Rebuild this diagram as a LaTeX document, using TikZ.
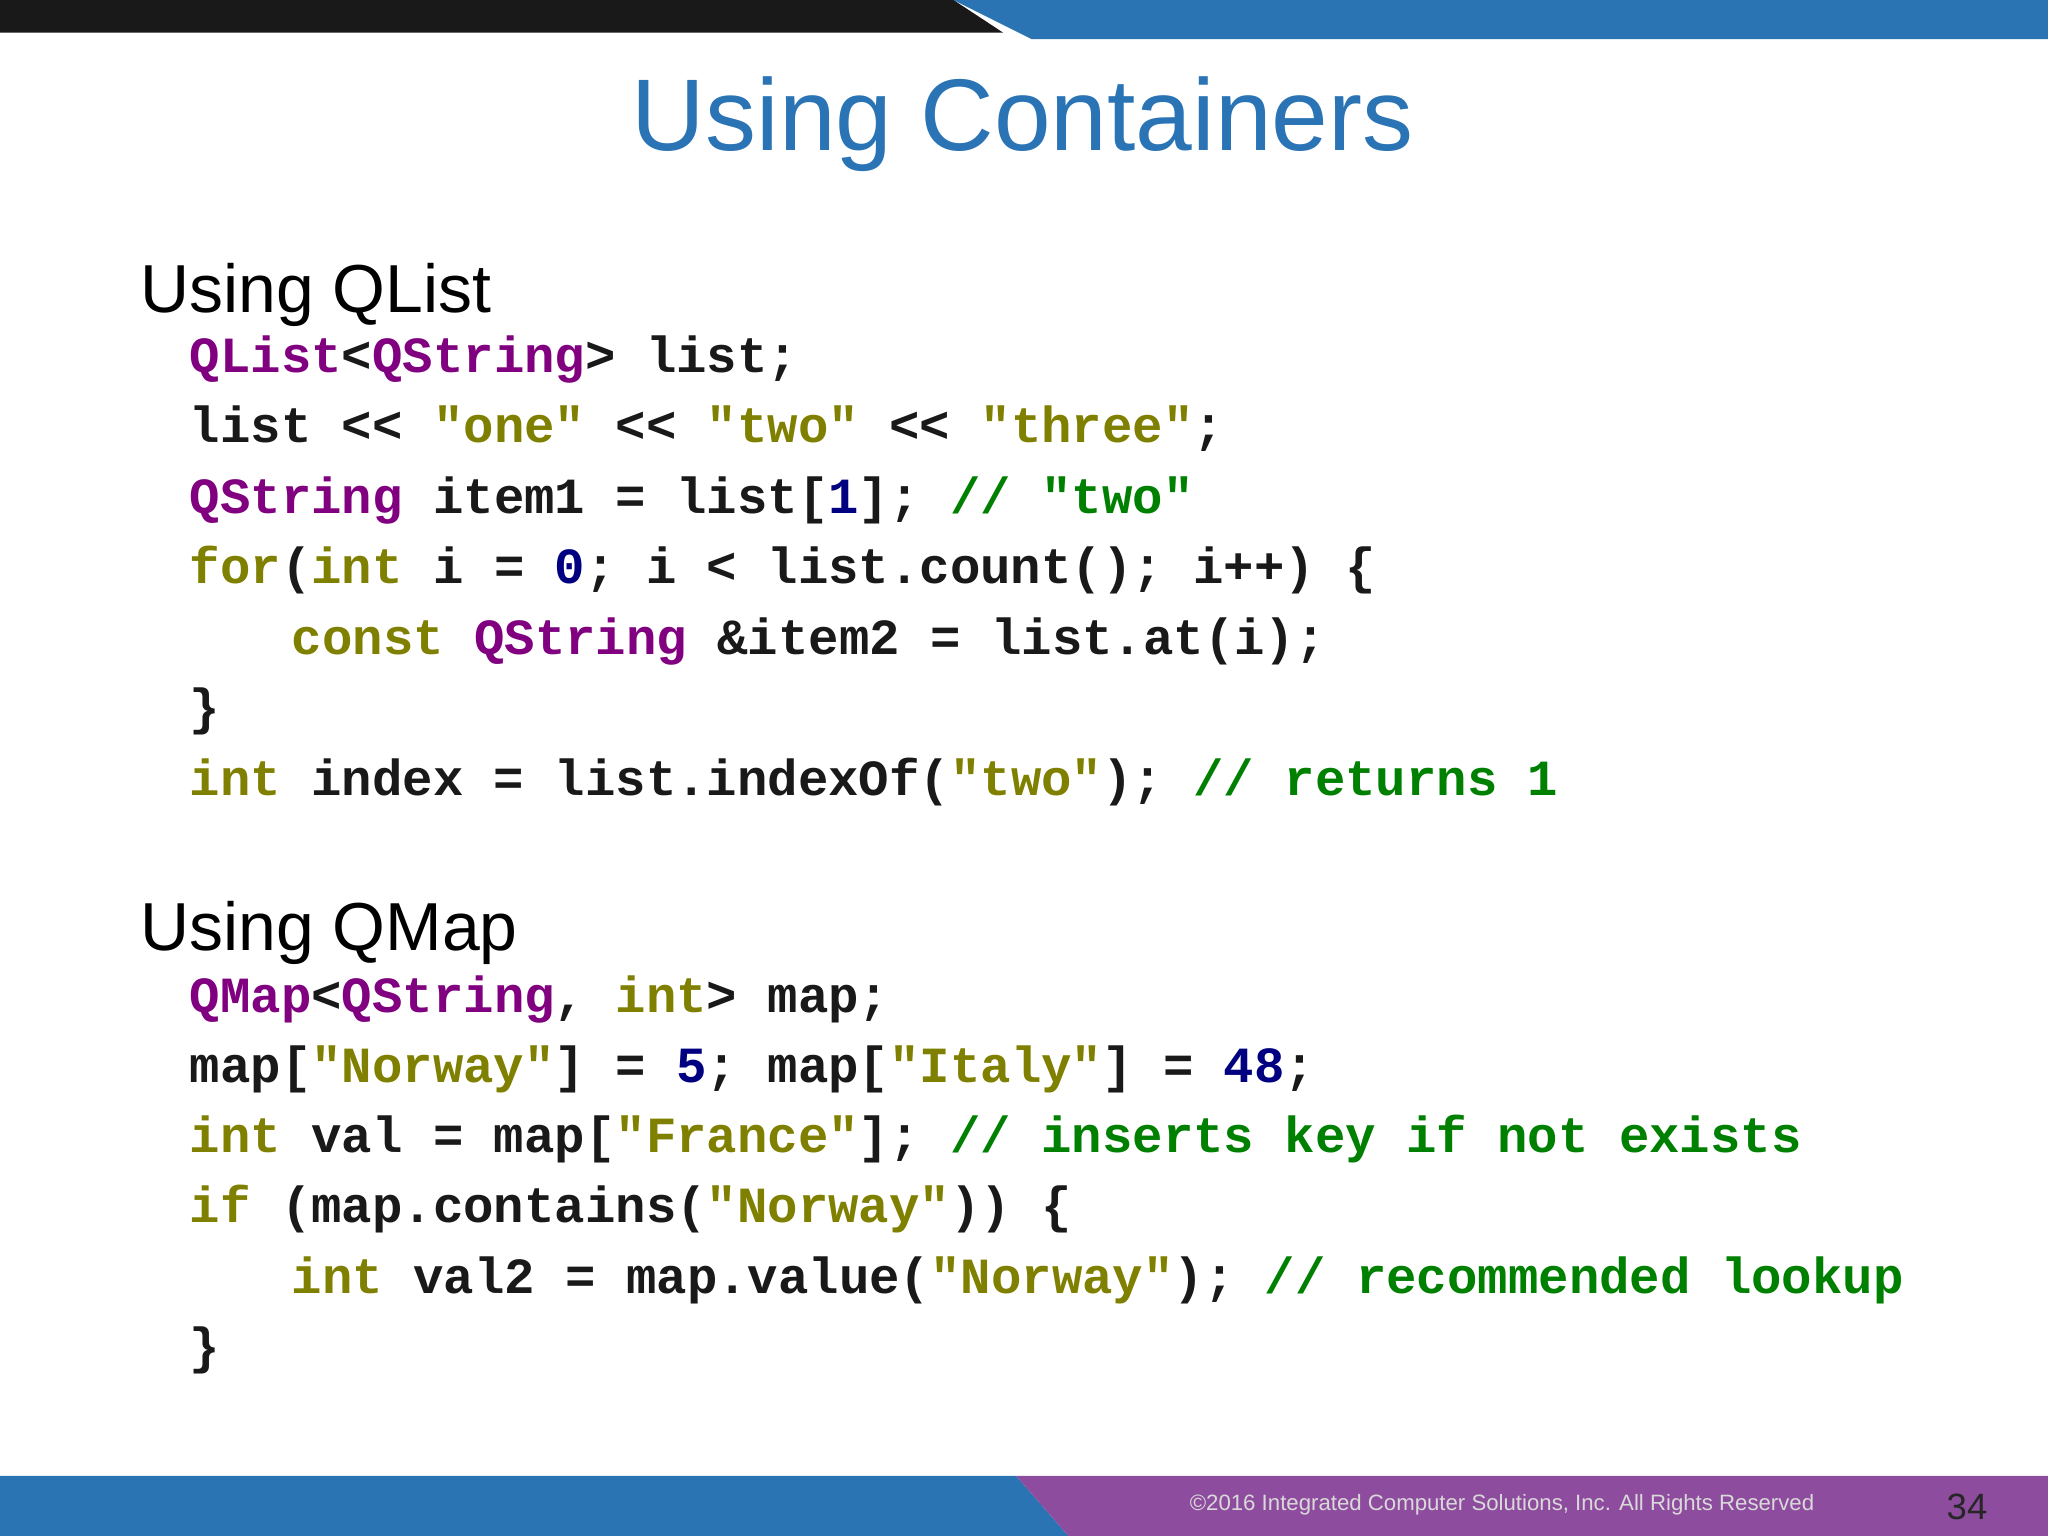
\documentclass[tikz,border=0pt]{standalone}
\usepackage{fontspec}
\setmainfont{Liberation Sans}
\setmonofont{Liberation Mono}
\definecolor{tblue}{HTML}{2A74B5}
\definecolor{bblue}{HTML}{2B74B4}
\definecolor{bpurp}{HTML}{8E4C9E}
\definecolor{qtype}{HTML}{800080}
\definecolor{qkw}{HTML}{808000}
\definecolor{qcm}{HTML}{008000}
\definecolor{qnum}{HTML}{000080}
\newcommand\cty[1]{\textcolor{qtype}{#1}}
\newcommand\ckw[1]{\textcolor{qkw}{#1}}
\newcommand\ccm[1]{\textcolor{qcm}{#1}}
\newcommand\cnm[1]{\textcolor{qnum}{#1}}
\tikzset{code/.style={anchor=base west,inner sep=0pt,font=\fontsize{19.4pt}{20pt}\ttfamily\bfseries,text=black!90},
 head/.style={anchor=base west,inner sep=0pt,font=\fontsize{26pt}{30pt}\selectfont}}
\begin{document}
\begin{tikzpicture}[x=0.5pt,y=-0.5pt]
\useasboundingbox (0,0) rectangle (1568,1176);
\fill[white] (0,0) rectangle (1568,1176);
\fill[bblue] (730,0) -- (1568,0) -- (1568,30) -- (790,30) -- cycle;
\fill[black!90] (0,0) -- (730,0) -- (768,25) -- (0,25) -- cycle;
\fill[bblue] (0,1130) -- (778,1130) -- (818,1176) -- (0,1176) -- cycle;
\fill[bpurp] (778,1130) -- (1568,1130) -- (1568,1176) -- (818,1176) -- cycle;
\node[inner sep=0pt,text=black!15,font=\fontsize{8.5pt}{9pt}\selectfont] (foot) at (1150,1152) {\copyright2016 Integrated Computer Solutions, Inc. All Rights Reserved};
\node[inner sep=0pt,text=black!85,font=\fontsize{14pt}{15pt}\selectfont] (pg) at (1506,1154) {34};
\node[inner sep=0pt,text=tblue,font=\fontsize{39pt}{41pt}\selectfont] (title) at (783,95) {Using Containers};
\node[head] (h1) at (107,239) {Using QList};
\node[code] (l1) at (145,285) {\cty{QList}<\cty{QString}> list;};
\node[code] (l2) at (145,339) {list << \ckw{"one"} << \ckw{"two"} << \ckw{"three"};};
\node[code] (l3) at (145,393) {\cty{QString} item1 = list[\cnm{1}]; \ccm{// "two"}};
\node[code] (l4) at (145,447) {\ckw{for}(\ckw{int} i = \cnm{0}; i < list.count(); i++) \{};
\node[code] (l5) at (223,501) {\ckw{const} \cty{QString} \&item2 = list.at(i);};
\node[code] (l6) at (145,555) {\}};
\node[code] (l7) at (145,609) {\ckw{int} index = list.indexOf(\ckw{"two"}); \ccm{// returns 1}};
\node[head] (h2) at (107,728) {Using QMap};
\node[code] (m1) at (145,775) {\cty{QMap}<\cty{QString}, \ckw{int}> map;};
\node[code] (m2) at (145,829) {map[\ckw{"Norway"}] = \cnm{5}; map[\ckw{"Italy"}] = \cnm{48};};
\node[code] (m3) at (145,882) {\ckw{int} val = map[\ckw{"France"}]; \ccm{// inserts key if not exists}};
\node[code] (m4) at (145,936) {\ckw{if} (map.contains(\ckw{"Norway"})) \{};
\node[code] (m5) at (223,990) {\ckw{int} val2 = map.value(\ckw{"Norway"}); \ccm{// recommended lookup}};
\node[code] (m6) at (145,1044) {\}};
\end{tikzpicture}
\end{document}
